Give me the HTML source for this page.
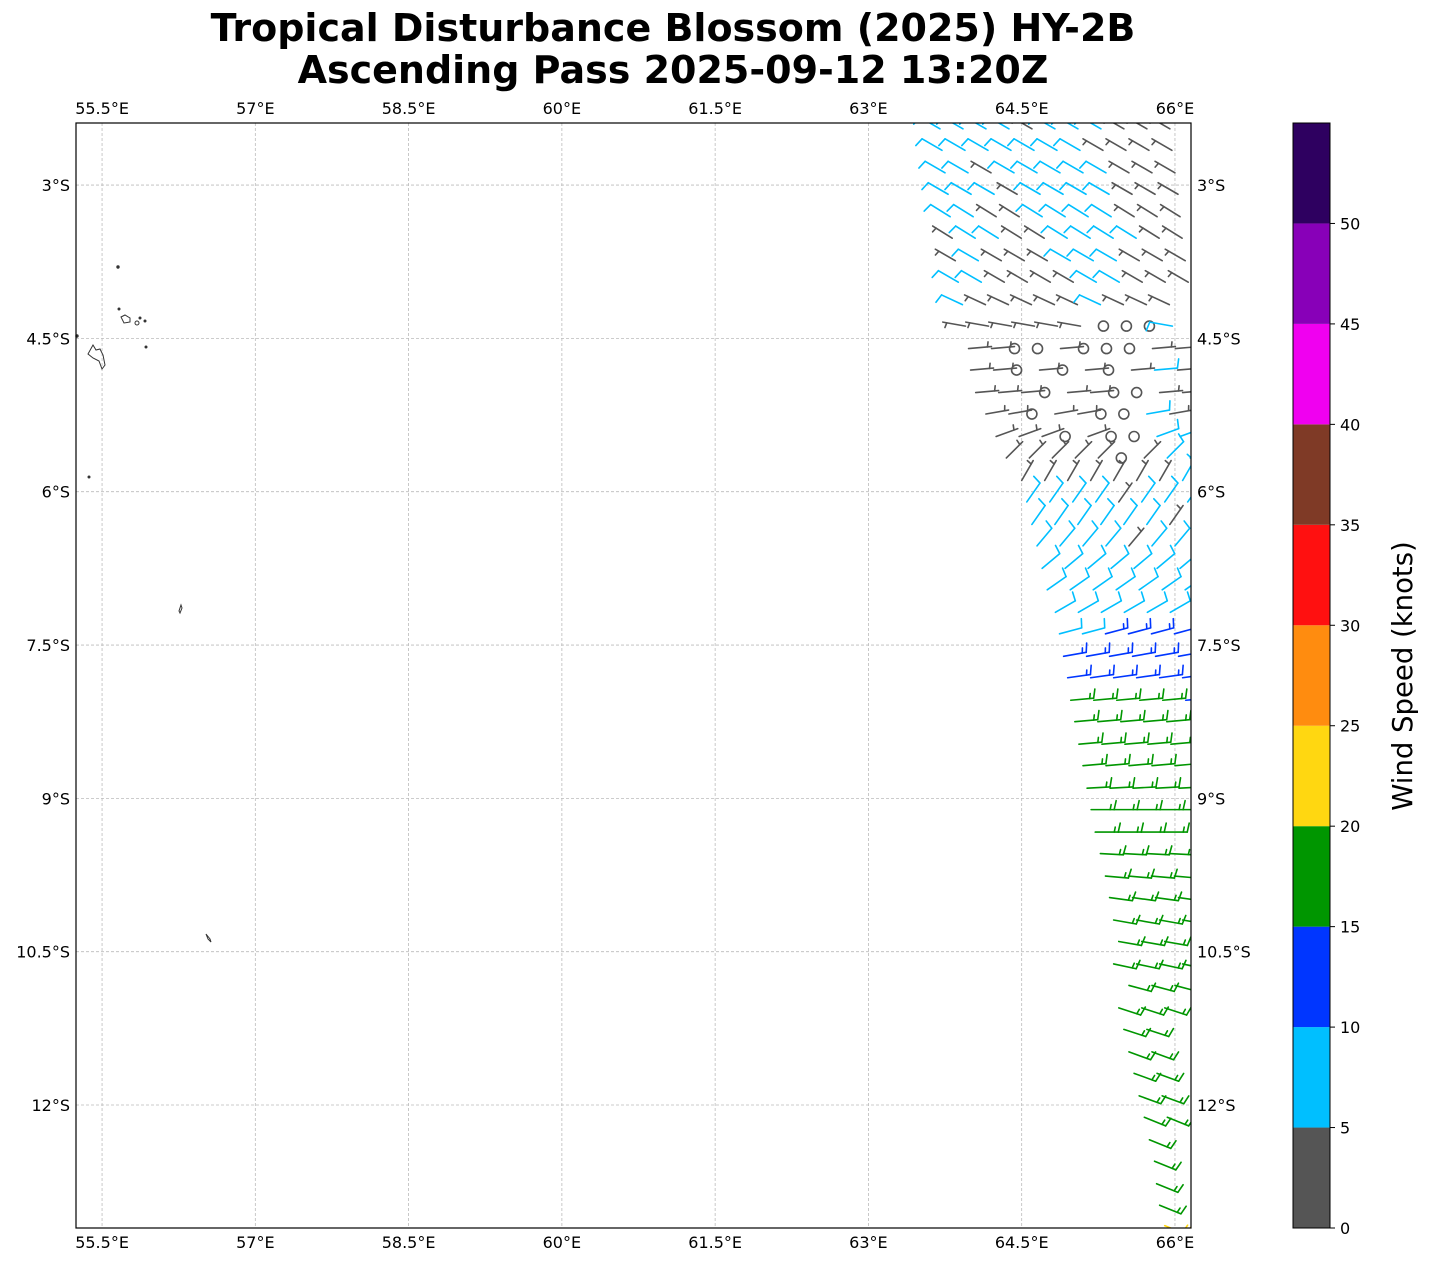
<!DOCTYPE html>
<html><head><meta charset="utf-8">
<style>
html,body{margin:0;padding:0;background:#fff;}
body{width:1430px;height:1264px;overflow:hidden;font-family:"DejaVu Sans","Liberation Sans",sans-serif;}
</style></head>
<body>
<svg id="chart" width="1430" height="1264" viewBox="0 0 1430 1264" xmlns="http://www.w3.org/2000/svg" font-family="DejaVu Sans, Liberation Sans, sans-serif">
<defs><clipPath id="mapclip"><rect x="76" y="123" width="1115" height="1105"/></clipPath></defs>
<text x="673" y="41" text-anchor="middle" font-size="38" font-weight="bold">Tropical Disturbance Blossom (2025) HY-2B</text>
<text x="673" y="83" text-anchor="middle" font-size="38" font-weight="bold">Ascending Pass 2025-09-12 13:20Z</text>
<g id="grid"></g>
<g id="coast" fill="none" stroke="#333" stroke-width="1">
<circle cx="118" cy="267" r="1.2" fill="#333"/>
<circle cx="119" cy="309" r="1" fill="#333"/>
<path d="M121 317 l4 -2 l5 3 l0 4 l-6 1 z"/>
<circle cx="137" cy="323" r="2"/>
<circle cx="140" cy="318" r="1" fill="#333"/>
<circle cx="145" cy="321" r="1" fill="#333"/>
<circle cx="146" cy="347" r="1" fill="#333"/>
<path d="M93 345 l3 5 l4 -1 l3 6 l2 10 l-3 4 l-3 -8 l-6 -3 l-5 -4 z"/>
<circle cx="77" cy="336" r="1.2" fill="#333"/>
<circle cx="89" cy="477" r="1" fill="#333"/>
<path d="M181 605 l1 3 l-2 5 l-1 -2 z"/>
<path d="M206 934 l4 5 l1 3 l-3 -3 z"/>
</g>
<g id="barbs" clip-path="url(#mapclip)"></g>
<rect x="76" y="123" width="1115" height="1105" fill="none" stroke="#000" stroke-width="1.2"/>
<g id="ticks" font-size="16"></g>
<g id="cbar"></g>
<text transform="translate(1412,676) rotate(-90)" text-anchor="middle" font-size="27.5">Wind Speed (knots)</text>
</svg>
<script>
// ---- data ----
const lonTicks = [55.5, 57, 58.5, 60, 61.5, 63, 64.5, 66];
const lonTickLabels = ["55.5°E","57°E","58.5°E","60°E","61.5°E","63°E","64.5°E","66°E"];
const latTicks = [-3, -4.5, -6, -7.5, -9, -10.5, -12];
const latTickLabels = ["3°S","4.5°S","6°S","7.5°S","9°S","10.5°S","12°S"];
const cbarLevels = [0,5,10,15,20,25,30,35,40,45,50,55];
const cbarColors = ["#555555","#00bfff","#0036ff","#009600","#ffd711","#ff8c0f","#ff1010","#7f3a26","#f000f0","#8800b8","#2e0060"];
const cbarTickLabels = [0,5,10,15,20,25,30,35,40,45,50];
// barb rows: latitude, first longitude, shaft angle (deg, screen), speeds (kt)
const rowLat = [-2.45,-2.66,-2.88,-3.09,-3.31,-3.52,-3.74,-3.95,-4.17,-4.38,-4.60,-4.81,-5.03,-5.24,-5.46,-5.67,-5.89,-6.10,-6.32,-6.53,-6.75,-6.96,-7.18,-7.39,-7.61,-7.82,-8.04,-8.25,-8.47,-8.68,-8.90,-9.11,-9.33,-9.54,-9.76,-9.97,-10.19,-10.40,-10.62,-10.83,-11.05,-11.26,-11.48,-11.69,-11.91,-12.12,-12.34,-12.55,-12.77,-12.98,-13.18];
const rowLon0 = [63.70,63.72,63.75,63.78,63.80,63.82,63.85,63.88,63.92,63.95,63.98,64.00,64.05,64.15,64.25,64.35,64.50,64.55,64.60,64.65,64.70,64.75,64.83,64.87,64.91,64.95,64.98,65.02,65.06,65.10,65.14,65.18,65.22,65.27,65.32,65.36,65.40,65.45,65.40,65.55,65.45,65.50,65.55,65.60,65.65,65.70,65.75,65.80,65.82,65.85,65.90];
const rowAng = [-150,-150,-150,-150,-148,-148,-150,-150,-155,-170,-5,-5,-5,-10,-20,-45,-60,-55,-55,-50,-40,-35,-30,-15,-10,-8,-5,-5,-5,-5,-3,0,0,3,5,8,10,10,12,15,18,18,20,20,20,22,22,22,22,22,22];
const rowSpeeds = [
[8,8,8,8,4,8,8,8,4,4,4],
[8,8,8,8,8,8,8,4,4,4,4],
[8,8,4,8,8,8,8,8,4,4,4],
[8,8,8,4,8,8,8,8,4,4,4],
[8,8,4,4,8,8,8,8,4,4,4],
[4,8,8,4,4,8,8,8,8,4,4],
[4,8,4,4,4,8,8,8,4,4,4],
[8,8,4,4,4,4,8,8,4,4,4],
[8,4,4,4,4,4,8,4,4,4],
[4,4,4,4,4,4,1,1,1,8],
[4,4,1,1,4,1,1,1,4,4],
[4,4,1,4,1,4,1,4,8,4],
[4,4,4,1,4,4,1,1,4,4],
[4,4,1,4,4,1,1,8,4],
[4,4,4,1,4,1,1,8,8],
[4,4,4,4,4,1,4,8,8],
[4,4,4,4,4,4,4,8],
[8,8,8,8,4,8,8,8],
[8,8,8,8,8,8,4,8],
[8,8,8,8,4,8,8],
[8,8,8,8,8,8,8],
[8,8,8,8,8,8,8],
[8,8,8,8,8,8,8],
[8,8,13,13,13,13],
[13,13,13,13,13,13],
[13,13,13,13,13,13],
[17,17,17,17,17,13],
[17,17,17,17,17],
[17,17,17,17,17],
[17,17,17,17,17],
[17,17,17,17,17],
[17,17,17,17,17],
[17,17,17,17],
[17,17,17,17],
[17,17,17,17],
[17,17,17,17],
[17,17,17,17],
[17,17,17],
[17,17,17,17],
[17,17,17],
[17,17,17],
[17,17],
[17,17],
[17,17],
[17,17],
[17,17],
[17],
[17],
[17],
[17],
[22]];
// ---- axes ----
const X0=76,X1=1191,Y0=123,Y1=1228;
const LON0=55.245,LON1=66.157,LAT0=-2.393,LAT1=-13.203;
const xS=lon=>X0+(lon-LON0)/(LON1-LON0)*(X1-X0);
const yS=lat=>Y0+(lat-LAT0)/(LAT1-LAT0)*(Y1-Y0);
const cbY=v=>1228-(v/55)*(1228-123);
const NS="http://www.w3.org/2000/svg";
function mk(tag,attrs,parent){const e=document.createElementNS(NS,tag);for(const k in attrs)e.setAttribute(k,attrs[k]);parent.appendChild(e);return e;}
const grid=document.getElementById('grid'),ticks=document.getElementById('ticks');
lonTicks.forEach((lon,i)=>{
  const x=xS(lon);
  const l=mk('line',{x1:x,y1:Y0,x2:x,y2:Y1,stroke:'#bbb','stroke-width':0.8,'stroke-dasharray':'3,2'},grid);
  
  
  const t1=mk('text',{x:x,y:114,'text-anchor':'middle'},ticks);t1.textContent=lonTickLabels[i];
  
  
  const t2=mk('text',{x:x,y:1248,'text-anchor':'middle'},ticks);t2.textContent=lonTickLabels[i];
  
  
});
latTicks.forEach((lat,i)=>{
  const y=yS(lat);
  const l=mk('line',{x1:X0,y1:y,x2:X1,y2:y,stroke:'#bbb','stroke-width':0.8,'stroke-dasharray':'3,2'},grid);
  
  
  const t1=mk('text',{x:70,y:y+6,'text-anchor':'end'},ticks);t1.textContent=latTickLabels[i];
  
  
  const t2=mk('text',{x:1197,y:y+6,'text-anchor':'start'},ticks);t2.textContent=latTickLabels[i];
  
  
});
// ---- colorbar ----
const cb=document.getElementById('cbar');
cbarColors.forEach((c,i)=>{
  const r=mk('rect',{x:1293,y:cbY(cbarLevels[i+1]),width:37,height:cbY(cbarLevels[i])-cbY(cbarLevels[i+1]),fill:c},cb);
  
  
});
mk('rect',{x:1293,y:123,width:37,height:1105,fill:'none',stroke:'#000','stroke-width':1},cb);
cbarTickLabels.forEach(v=>{
  const y=cbY(v);
  mk('line',{x1:1330,y1:y,x2:1335,y2:y,stroke:'#000'},cb);
  const t=mk('text',{x:1340,y:y+6,'font-size':16},cb);t.textContent=v;
  
  
});
// ---- barbs ----
function colorFor(s){for(let i=0;i<cbarColors.length;i++){if(s<cbarLevels[i+1])return cbarColors[i];}return cbarColors[cbarColors.length-1];}
const bg=document.getElementById('barbs');
const L=23,SP=4,FULL=9,HALF=5;
rowLat.forEach((lat,r)=>{
  const y=yS(lat);
  const a=rowAng[r]*Math.PI/180, sx=Math.cos(a), sy=Math.sin(a);
  const px=sy, py=-sx;
  rowSpeeds[r].forEach((s,i)=>{
    const x=xS(rowLon0[r]+i*0.225);
    if(x>X1+2)return;
    const col=colorFor(s);
    const g=mk('g',{stroke:col,'stroke-width':1.6,fill:'none','stroke-linecap':'round'},bg);
    
    
    const rs=Math.round(s/5)*5;
    if(rs<5){mk('circle',{cx:x,cy:y,r:5},g);return;}
    const tx=x+sx*L, ty=y+sy*L;
    mk('line',{x1:x,y1:y,x2:tx,y2:ty},g);
    let nf=Math.floor(rs/10), nh=(rs%10)?1:0;
    let d=0;
    if(nf===0&&nh){d=SP;}
    for(let k=0;k<nf;k++){const bx=tx-sx*d,by=ty-sy*d;mk('line',{x1:bx,y1:by,x2:bx+px*FULL+sx*2,y2:by+py*FULL+sy*2},g);d+=SP;}
    if(nh){const bx=tx-sx*d,by=ty-sy*d;mk('line',{x1:bx,y1:by,x2:bx+px*HALF+sx*1,y2:by+py*HALF+sy*1},g);}
  });
});
</script>
</body></html>
